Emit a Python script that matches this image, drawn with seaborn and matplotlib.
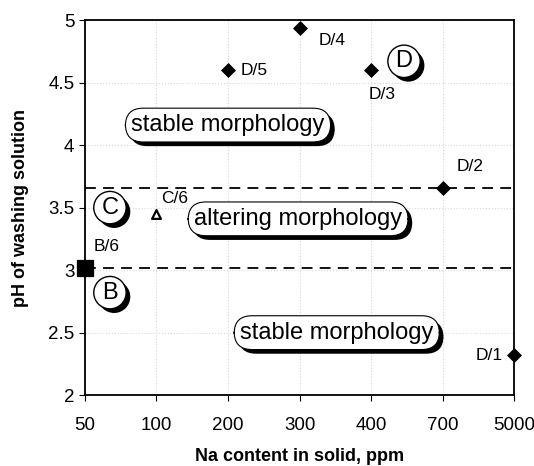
import pandas as pd
import matplotlib
matplotlib.use('Agg')
import matplotlib.pyplot as plt
import matplotlib.patheffects as pe
import seaborn as sns

# data
na_levels = ['50', '100', '200', '300', '400', '700', '5000']
sample_ids = ['D/1', 'D/2', 'D/3', 'D/4', 'D/5', 'C/6', 'B/6']
sample_na = ['5000', '700', '400', '300', '200', '100', '50']
sample_ph = [2.32, 3.66, 4.6, 4.94, 4.6, 3.45, 3.02]
sample_group = ['D', 'D', 'D', 'D', 'D', 'C', 'B']
boundaries = [3.66, 3.02]

sns.set_style('white')
plt.rcParams['font.family'] = ['Liberation Sans', 'DejaVu Sans']
plt.rcParams.update({'text.color': 'black', 'axes.labelcolor': 'black',
                     'xtick.color': 'black', 'ytick.color': 'black'})

df = pd.DataFrame({'id': sample_ids, 'na': sample_na, 'ph': sample_ph, 'group': sample_group})
df['pos'] = df['na'].map({v: i for i, v in enumerate(na_levels)})

fig = plt.figure(figsize=(5.34, 4.66), dpi=100)
ax = fig.add_axes([0.159, 0.152, 0.804, 0.805])

ax.grid(True, color='#d8d8d8', linestyle=':', linewidth=0.8)
ax.set_axisbelow(True)

for yb in boundaries:
    ax.axhline(yb, color='black', linestyle=(0, (6, 4)), linewidth=1.3, zorder=2)

d = df[df['group'] == 'D']
sns.scatterplot(data=d, x='pos', y='ph', marker='D', s=50, color='black',
                edgecolor='black', ax=ax, zorder=5, clip_on=False)
sns.scatterplot(data=df[df['group'] == 'C'], x='pos', y='ph', marker='^', s=40,
                facecolor='white', edgecolor='black', linewidth=1.6, ax=ax, zorder=5)
sns.scatterplot(data=df[df['group'] == 'B'], x='pos', y='ph', marker='s', s=130,
                color='black', edgecolor='black', ax=ax, zorder=5, clip_on=False)

# point labels
offsets = {'D/1': (-8, 0, 'right', 'center'), 'D/2': (10, 10, 'left', 'bottom'),
           'D/3': (-2, -12, 'left', 'top'), 'D/4': (14, -4, 'left', 'top'),
           'D/5': (9, 0, 'left', 'center'), 'C/6': (3, 6, 'left', 'bottom'),
           'B/6': (6, 10, 'left', 'bottom')}
for _, r in df.iterrows():
    dx, dy, ha, va = offsets[r['id']]
    ax.annotate(r['id'], (r['pos'], r['ph']), xytext=(dx, dy), textcoords='offset points',
                ha=ha, va=va, fontsize=12.5)

shadow = [pe.withSimplePatchShadow(offset=(3, -3), shadow_rgbFace='black', alpha=1.0)]

def region_label(x, y, s):
    t = ax.text(x, y, s, ha='center', va='center', fontsize=17, zorder=6,
                bbox=dict(boxstyle='round,pad=0.25,rounding_size=0.75', fc='white', ec='black', lw=0.8))
    t.get_bbox_patch().set_path_effects(shadow)

def circle_label(x, y, s):
    t = ax.text(x, y, s, ha='center', va='center', fontsize=17, zorder=6,
                bbox=dict(boxstyle='circle,pad=0.22', fc='white', ec='black', lw=1.0))
    t.get_bbox_patch().set_path_effects(shadow)

region_label(2.0, 4.16, 'stable morphology')
region_label(2.98, 3.41, 'altering morphology')
region_label(3.52, 2.5, 'stable morphology')
circle_label(0.35, 3.5, 'C')
circle_label(0.35, 2.82, 'B')
circle_label(4.46, 4.67, 'D')

ax.set_xlim(0, len(na_levels) - 1)
ax.set_ylim(2, 5)
ax.set_xticks(range(len(na_levels)))
ax.set_xticklabels(na_levels)
ax.set_yticks([2, 2.5, 3, 3.5, 4, 4.5, 5])
ax.set_yticklabels(['2', '2.5', '3', '3.5', '4', '4.5', '5'])
ax.tick_params(axis='both', labelsize=13.5, direction='out', length=4, color='black', left=True, bottom=True)
ax.tick_params(axis='x', pad=12)
for sp in ax.spines.values():
    sp.set_color('black')
    sp.set_linewidth(1.3)

ax.set_xlabel('Na content in solid, ppm', fontsize=13, fontweight='bold', labelpad=10)
ax.set_ylabel('pH of washing solution', fontsize=13, fontweight='bold', labelpad=14)

fig.savefig('out.png', dpi=100)
